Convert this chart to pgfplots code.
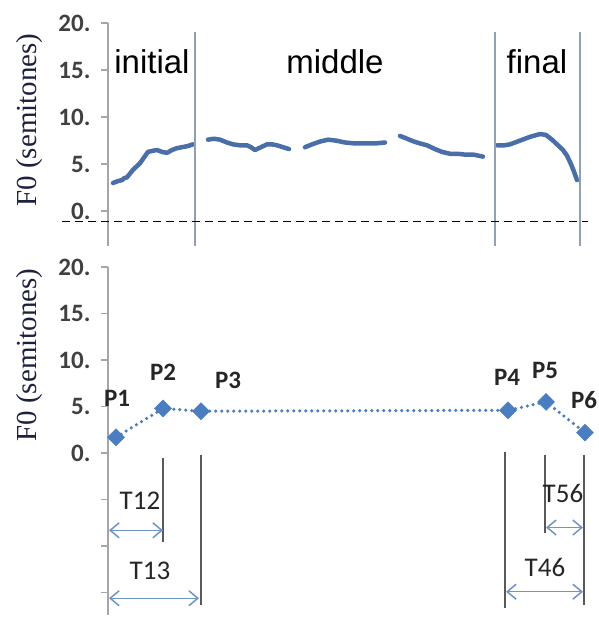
\documentclass[border=0pt]{standalone}
\usepackage{pgfplots}
\pgfplotsset{compat=1.18}
\usepackage{fontspec}
\setmainfont{Liberation Sans}
\newfontfamily\calib{Carlito}
\newfontfamily\tms{Liberation Serif}
\usetikzlibrary{arrows.meta}
\definecolor{curve}{HTML}{4A6FA8}
\definecolor{mk}{HTML}{4A7EC0}
\definecolor{axgray}{HTML}{A6A6A6}
\definecolor{sep}{HTML}{8FA0B5}
\definecolor{arr}{HTML}{6F95C8}
\definecolor{lab}{HTML}{1E2040}
\pgfplotsset{panel/.style={scale only axis, width=480pt, xmin=108, xmax=588,
  axis x line=none, axis y line*=left,
  axis line style={axgray, line width=1.5pt},
  every tick/.style={axgray, line width=1.5pt}, major tick length=7pt, tick align=outside,
  yticklabel style={font=\calib\bfseries\fontsize{25}{25}\selectfont, text=black!75, xshift=-7pt},
  clip=false}}
\begin{document}
\begin{tikzpicture}
\useasboundingbox (0,0) rectangle (598pt,618pt);
% ---------- top panel ----------
\begin{axis}[panel, at={(108pt,372pt)}, anchor=south west, height=223pt,
  ymin=-3.7, ymax=20, ytick={0,5,10,15,20}, yticklabels={0.,5.,10.,15.,20.}]
\addplot[curve, line width=4.5pt, line join=round, line cap=round] coordinates {
 (113,3.0)(118,3.2)(122,3.3)(124,3.5)(127,3.6)(130,4.0)(133,4.4)(137,4.8)(140,5.1)(144,5.7)(148,6.3)(152,6.4)(157,6.5)(162,6.3)(167,6.2)(172,6.5)(177,6.7)(182,6.8)(187,6.9)(193,7.1)};
\addplot[curve, line width=4.5pt, line join=round, line cap=round] coordinates {
 (208,7.6)(214,7.7)(220,7.6)(227,7.3)(233,7.1)(240,7.0)(247,7.0)(251,6.8)(255,6.5)(261,6.8)(267,7.1)(272,7.1)(277,7.0)(283,6.8)(289,6.6)};
\addplot[curve, line width=4.5pt, line join=round, line cap=round] coordinates {
 (305,6.8)(312,7.1)(320,7.4)(328,7.6)(336,7.5)(345,7.3)(355,7.2)(365,7.2)(375,7.2)(385,7.3)};
\addplot[curve, line width=4.5pt, line join=round, line cap=round] coordinates {
 (400,8.0)(407,7.7)(414,7.4)(420,7.2)(427,7.0)(435,6.6)(442,6.3)(450,6.1)(458,6.1)(466,6.0)(474,6.0)(483,5.8)};
\addplot[curve, line width=4.5pt, line join=round, line cap=round] coordinates {
 (497,7.0)(504,7.0)(510,7.1)(520,7.5)(530,7.9)(540,8.2)(546,8.1)(552,7.6)(558,7.0)(563,6.5)(567,5.9)(571,5.0)(574,4.2)(577,3.3)};
\draw[sep, line width=2pt] (axis cs:195,19) -- (axis cs:195,-3.7);
\draw[sep, line width=2pt] (axis cs:495,19) -- (axis cs:495,-3.7);
\draw[sep, line width=2pt] (axis cs:580,19) -- (axis cs:580,-3.7);
\draw[black, line width=1.3pt, dash pattern=on 8pt off 5pt] (axis cs:62,-1.06) -- (axis cs:588,-1.06);
\node[font=\fontsize{33}{33}\selectfont] at (axis cs:152,15.9) {initial};
\node[font=\fontsize{33}{33}\selectfont] at (axis cs:335,15.9) {middle};
\node[font=\fontsize{33}{33}\selectfont] at (axis cs:537,15.9) {final};
\end{axis}
% ---------- bottom panel ----------
\begin{axis}[panel, at={(108pt,3pt)}, anchor=south west, height=348pt,
  ymin=-17.4, ymax=20, ytick={-15,-10,-5,0,5,10,15,20}, yticklabels={,,,0.,5.,10.,15.,20.}]
\addplot[mk, line width=3.5pt, dash pattern=on 0pt off 6pt, line cap=round,
  mark=square*, mark size=6pt, mark options={solid, rotate=45, fill=mk, draw=mk, line width=0.5pt}]
  coordinates {(116,1.7)(163,4.8)(201,4.5)(508,4.6)(546,5.5)(585,2.2)};
\draw[black!65, line width=1.2pt] (axis cs:163,-0.5) -- (axis cs:163,-9.6);
\draw[black!65, line width=1.2pt] (axis cs:201,-0.2) -- (axis cs:201,-16.3);
\draw[black!65, line width=1.2pt] (axis cs:505,0.1) -- (axis cs:505,-16.6);
\draw[black!65, line width=1.2pt] (axis cs:545,-0.2) -- (axis cs:545,-8.6);
\draw[black!65, line width=1.2pt] (axis cs:584,-0.2) -- (axis cs:584,-16.3);
\tikzset{dbl/.style={arr, line width=1.5pt, {Straight Barb[length=9pt,width=15pt]}-{Straight Barb[length=9pt,width=15pt]}}}
\draw[dbl] (axis cs:109,-8.3) -- (axis cs:163,-8.3);
\draw[dbl] (axis cs:109,-15.6) -- (axis cs:199,-15.6);
\draw[dbl] (axis cs:546,-8.0) -- (axis cs:583,-8.0);
\draw[dbl] (axis cs:506,-14.9) -- (axis cs:583,-14.9);
\tikzset{plab/.style={font=\calib\bfseries\fontsize{25}{25}\selectfont, text=black!85}}
\node[plab] at (axis cs:117,5.9) {P1};
\node[plab] at (axis cs:163,8.7) {P2};
\node[plab] at (axis cs:228,7.8) {P3};
\node[plab] at (axis cs:507,8.1) {P4};
\node[plab] at (axis cs:545,8.9) {P5};
\node[plab] at (axis cs:584,5.7) {P6};
\tikzset{tlab/.style={font=\calib\fontsize{27}{27}\selectfont, text=black!85}}
\node[tlab] at (axis cs:140,-5.1) {T12};
\node[tlab] at (axis cs:150,-12.6) {T13};
\node[tlab] at (axis cs:563,-4.3) {T56};
\node[tlab] at (axis cs:545,-12.3) {T46};
\end{axis}
\node[rotate=90, text=lab, font=\tms\fontsize{29}{29}\selectfont] at (30pt,498pt) {F0 (semitones)};
\node[rotate=90, text=lab, font=\tms\fontsize{29}{29}\selectfont] at (30pt,263pt) {F0 (semitones)};
\end{tikzpicture}
\end{document}
